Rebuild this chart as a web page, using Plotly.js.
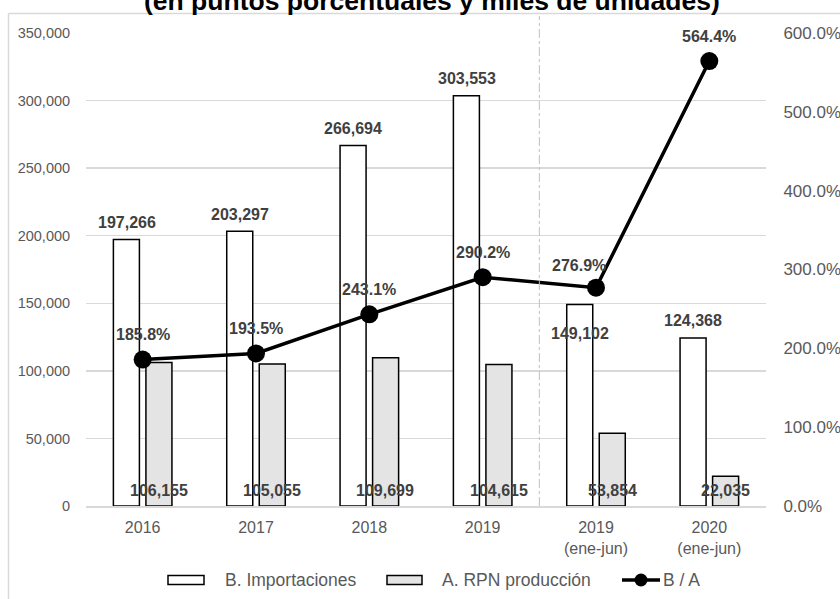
<!DOCTYPE html>
<html>
<head>
<meta charset="utf-8">
<script src="https://cdn.plot.ly/plotly-3.0.1.min.js"></script>
<style>
  html, body { margin: 0; padding: 0; background: #ffffff; }
  #chart { width: 840px; height: 599px; }
</style>
</head>
<body>
<div id="chart"></div>
<script>
// ---- Data ----
const categories = ['2016', '2017', '2018', '2019', '2019<br>(ene-jun)', '2020<br>(ene-jun)'];
const importaciones = [197266, 203297, 266694, 303553, 149102, 124368];   // B. Importaciones
const rpnProduccion = [106155, 105055, 109699, 104615, 53854, 22035];     // A. RPN producción
const ratioBA = [185.8, 193.5, 243.1, 290.2, 276.9, 564.4];               // B / A (%)
const seriesNames = ['B. Importaciones', 'A. RPN producción', 'B / A'];
const titleText = '(en puntos porcentuales y miles de unidades)';

// ---- Geometry helpers (page pixels -> paper) ----
const W = 840, H = 599;
const M = { l: 86, r: 74, t: 33, b: 93 };
const PW = W - M.l - M.r, PH = H - M.t - M.b;
const px = x => (x - M.l) / PW;
const py = y => (H - M.b - y) / PH;

const FONT = 'Liberation Sans, Arial, sans-serif';
const LABEL = '#404040';
const TICK = '#595959';
const GRID = '#d9d9d9';
const fmt = v => v.toLocaleString('en-US');

const traces = [
  {
    type: 'bar', name: seriesNames[0], x: categories, y: importaciones,
    marker: { color: '#ffffff', line: { color: '#000000', width: 1.5 } },
    showlegend: false, hoverinfo: 'skip'
  },
  {
    type: 'bar', name: seriesNames[1], x: categories, y: rpnProduccion,
    marker: { color: '#e4e4e4', line: { color: '#000000', width: 1.5 } },
    showlegend: false, hoverinfo: 'skip'
  },
  {
    type: 'scatter', mode: 'lines+markers', name: seriesNames[2], x: categories, y: ratioBA,
    yaxis: 'y2',
    line: { color: '#000000', width: 3.5 },
    marker: { color: '#000000', size: 18 },
    showlegend: false, hoverinfo: 'skip'
  }
];

const annotations = [];
// Value labels for B bars (x given as category index)
importaciones.forEach((v, i) => {
  const inside = (i === 4);
  annotations.push({
    x: i, y: v, xref: 'x', yref: 'y', text: '<b>' + fmt(v) + '</b>',
    showarrow: false, xshift: -16, yshift: inside ? -29 : 17,
    font: { family: FONT, size: 16, color: LABEL }
  });
});
// Value labels for A bars (at base)
rpnProduccion.forEach((v, i) => {
  annotations.push({
    x: i, y: 0, xref: 'x', yref: 'y', text: '<b>' + fmt(v) + '</b>',
    showarrow: false, xshift: 16, yshift: 16,
    font: { family: FONT, size: 16, color: LABEL }
  });
});
// Labels for ratio line
ratioBA.forEach((v, i) => {
  const shiftLeft = (i === 4);
  annotations.push({
    x: i, y: v, xref: 'x', yref: 'y2', text: '<b>' + v.toFixed(1) + '%</b>',
    showarrow: false, xshift: shiftLeft ? -17 : 0, yshift: shiftLeft ? 22 : 25,
    font: { family: FONT, size: 16, color: LABEL }
  });
});
// Title (clipped at top, as in the reference)
annotations.push({
  xref: 'paper', yref: 'paper', x: px(432), y: py(1), xanchor: 'center', yanchor: 'middle',
  text: '<b>' + titleText + '</b>', showarrow: false,
  font: { family: FONT, size: 26.5, color: '#000000' }
});
// Legend texts
const legendY = 580;
annotations.push(
  { xref: 'paper', yref: 'paper', x: px(223), y: py(legendY), xanchor: 'left', yanchor: 'middle',
    text: seriesNames[0], showarrow: false, font: { family: FONT, size: 17.5, color: TICK } },
  { xref: 'paper', yref: 'paper', x: px(440), y: py(legendY), xanchor: 'left', yanchor: 'middle',
    text: seriesNames[1], showarrow: false, font: { family: FONT, size: 17.5, color: TICK } },
  { xref: 'paper', yref: 'paper', x: px(661), y: py(legendY), xanchor: 'left', yanchor: 'middle',
    text: seriesNames[2], showarrow: false, font: { family: FONT, size: 17.5, color: TICK } }
);

const shapes = [
  // chart frame (top & left edges)
  { type: 'line', xref: 'paper', yref: 'paper', x0: px(8.5), x1: px(845), y0: py(13.5), y1: py(13.5),
    line: { color: GRID, width: 1.5 } },
  { type: 'line', xref: 'paper', yref: 'paper', x0: px(8.5), x1: px(8.5), y0: py(13.5), y1: py(605),
    line: { color: GRID, width: 1.5 } },
  // divider between annual and semester data
  { type: 'line', xref: 'x', yref: 'paper', x0: 3.5, x1: 3.5, y0: 0, y1: py(16),
    line: { color: '#c0c0c0', width: 1, dash: 'dashdot' } },
  // legend symbols
  { type: 'rect', xref: 'paper', yref: 'paper', x0: px(168), x1: px(204), y0: py(575.5), y1: py(584.5),
    fillcolor: '#ffffff', line: { color: '#000000', width: 1.5 } },
  { type: 'rect', xref: 'paper', yref: 'paper', x0: px(387), x1: px(422), y0: py(575.5), y1: py(584.5),
    fillcolor: '#e4e4e4', line: { color: '#000000', width: 1.5 } },
  { type: 'line', xref: 'paper', yref: 'paper', x0: px(622), x1: px(660), y0: py(legendY), y1: py(legendY),
    line: { color: '#000000', width: 3.5 } },
  { type: 'circle', xref: 'paper', yref: 'paper', x0: px(634.5), x1: px(647.5), y0: py(573.5), y1: py(586.5),
    fillcolor: '#000000', line: { color: '#000000', width: 0 } }
];

const layout = {
  width: W, height: H,
  margin: M,
  paper_bgcolor: '#ffffff', plot_bgcolor: '#ffffff',
  font: { family: FONT, color: TICK },
  barmode: 'group', bargap: 0.426, bargroupgap: 0.2,
  showlegend: false,
  xaxis: {
    type: 'category', range: [-0.5, 5.5], showgrid: false,
    showline: true, linecolor: GRID, linewidth: 1.5,
    ticks: 'outside', ticklen: 6, tickcolor: 'rgba(0,0,0,0)',
    tickfont: { family: FONT, size: 16, color: TICK }, fixedrange: true
  },
  yaxis: {
    range: [0, 350000], dtick: 50000, tick0: 0, tickformat: ',d',
    showgrid: true, gridcolor: GRID, gridwidth: 1.5, zeroline: false, showline: false,
    ticks: 'outside', ticklen: 12, tickcolor: 'rgba(0,0,0,0)',
    tickfont: { family: FONT, size: 14.5, color: TICK }, fixedrange: true
  },
  yaxis2: {
    overlaying: 'y', side: 'right', range: [0, 600], dtick: 100, tick0: 0,
    tickformat: '.1f', ticksuffix: '%', showgrid: false, zeroline: false, showline: false,
    ticks: 'outside', ticklen: 13, tickcolor: 'rgba(0,0,0,0)',
    tickfont: { family: FONT, size: 17, color: TICK }, fixedrange: true
  },
  annotations: annotations,
  shapes: shapes
};

Plotly.newPlot('chart', traces, layout, { displayModeBar: false, staticPlot: true });
</script>
</body>
</html>
